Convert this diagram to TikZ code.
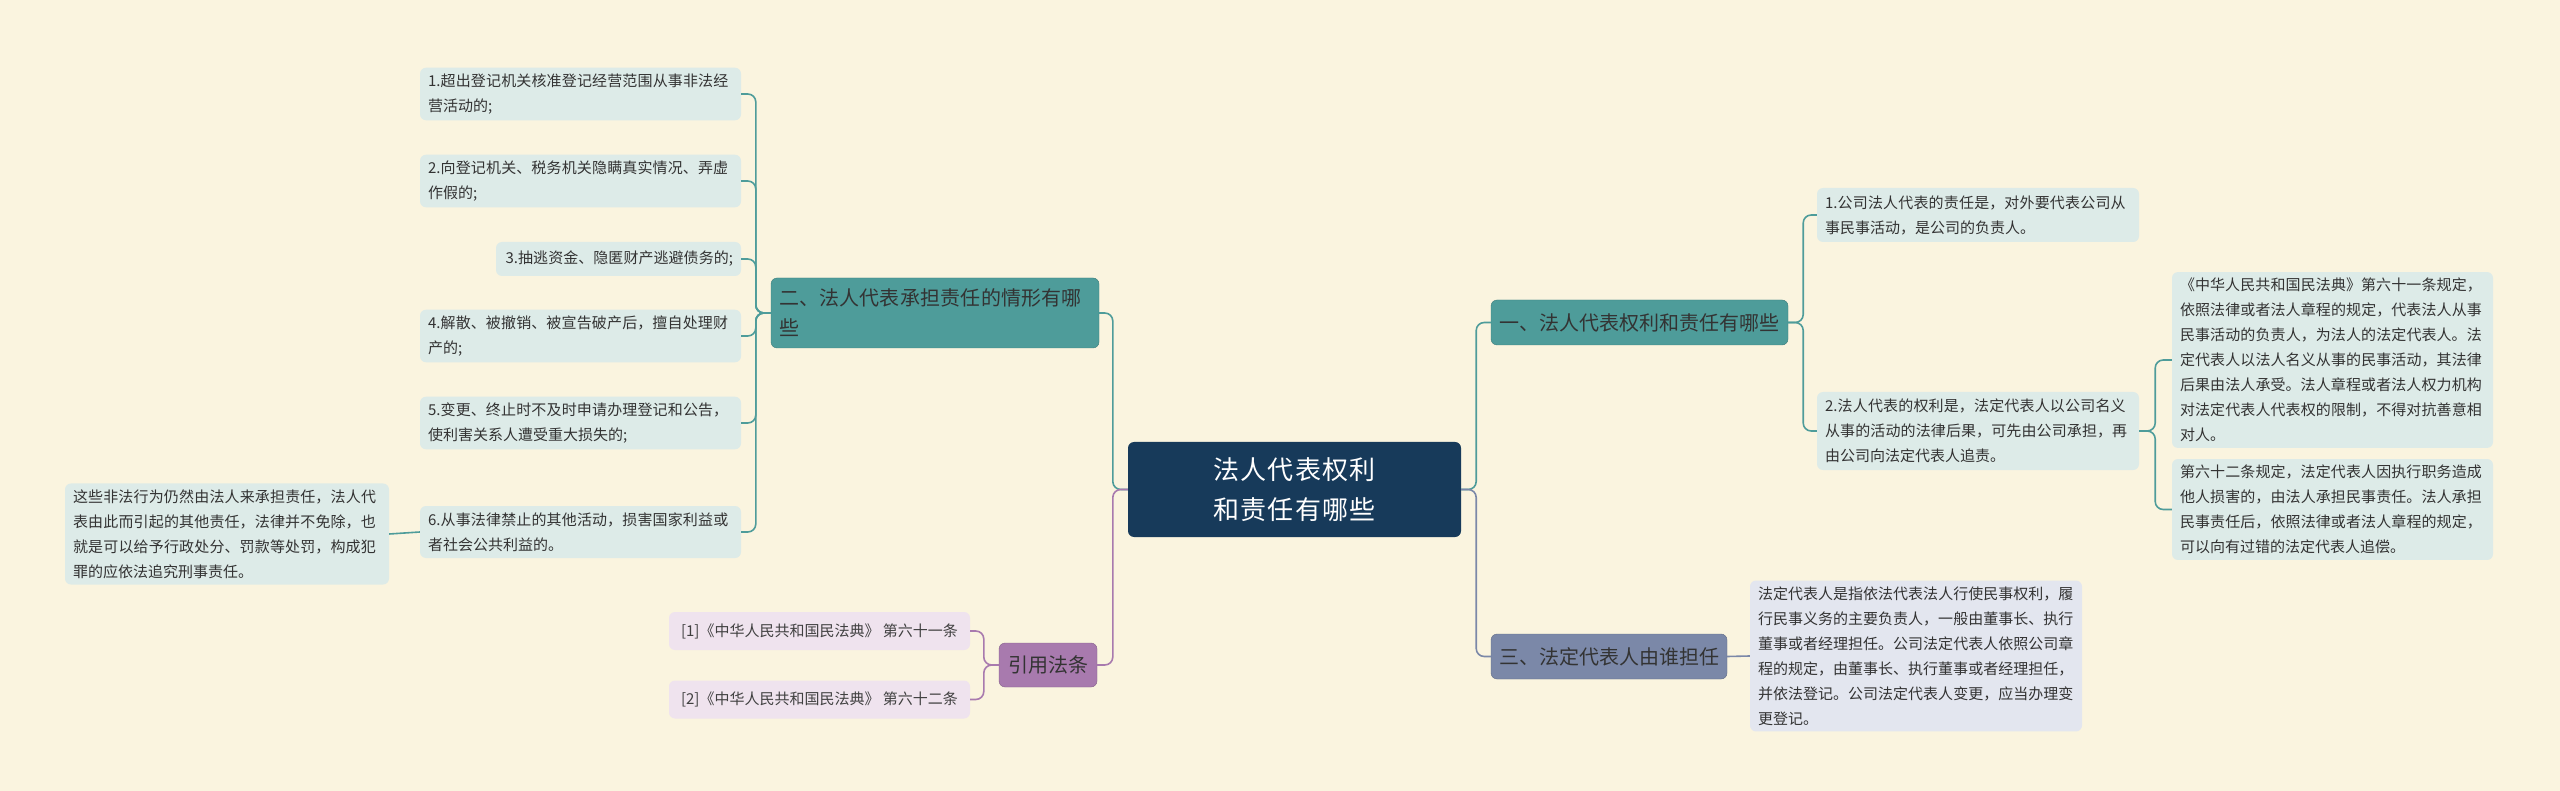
\documentclass[tikz,border=0pt]{standalone}
\usepackage{fontspec}
\setmainfont{Noto Sans CJK SC}
\XeTeXlinebreaklocale "zh"
\XeTeXlinebreakskip=0pt plus 1pt
\begin{document}
\begin{tikzpicture}[x=1pt,y=-1pt,
  box/.style={rounded corners=6pt,inner sep=6pt,align=left,anchor=center},
  leaf/.style={box,fill=leafc,text=black!80,font=\fontsize{15}{25}\selectfont},
  br/.style={box,fill=tealc,text=black!80,font=\fontsize{20}{30}\selectfont,draw=tealc!80!black},
  tl/.style={draw=tealc,line width=1.6pt,rounded corners=8pt},
  pl/.style={draw=purpc,line width=1.6pt,rounded corners=8pt},
  gl/.style={draw=grayc,line width=1.6pt,rounded corners=8pt}]
\definecolor{bgc}{HTML}{FAF4DF}
\definecolor{leafc}{HTML}{DDEBE8}
\definecolor{tealc}{HTML}{4E9C9A}
\definecolor{rootc}{HTML}{173A5A}
\definecolor{purpc}{HTML}{A87AAE}
\definecolor{refc}{HTML}{EFE3EE}
\definecolor{grayc}{HTML}{7B88A8}
\definecolor{r3c}{HTML}{E3E6EF}
\fill[bgc] (0,0) rectangle (2560,791);
\useasboundingbox (0,0) rectangle (2560,791);
% root
\node[box,fill=rootc,text=white,font=\fontsize{26}{40}\selectfont,align=center,minimum width=333pt,minimum height=95pt,text width=300pt] (root) at (1294.5,489.5) {法人代表权利和责任有哪些};
% left branch
\node[br,minimum width=328pt,minimum height=70pt,text width=312pt] (b2) at (935,313) {二、法人代表承担责任的情形有哪些};
\node[leaf,minimum width=321pt,minimum height=50pt,text width=305pt] (l1) at (580.5,94) {1.超出登记机关核准登记经营范围从事非法经营活动的;};
\node[leaf,minimum width=321pt,minimum height=52pt,text width=305pt] (l2) at (580.5,181) {2.向登记机关、税务机关隐瞒真实情况、弄虚作假的;};
\node[leaf,minimum width=245pt,minimum height=34pt,text width=229pt,align=right] (l3) at (618.5,259) {3.抽逃资金、隐匿财产逃避债务的;};
\node[leaf,minimum width=321pt,minimum height=52pt,text width=305pt] (l4) at (580.5,336) {4.解散、被撤销、被宣告破产后，擅自处理财产的;};
\node[leaf,minimum width=321pt,minimum height=52pt,text width=305pt] (l5) at (580.5,423) {5.变更、终止时不及时申请办理登记和公告，使利害关系人遭受重大损失的;};
\node[leaf,minimum width=321pt,minimum height=52pt,text width=305pt] (l6) at (580.5,532) {6.从事法律禁止的其他活动，损害国家利益或者社会公共利益的。};
\node[leaf,minimum width=324pt,minimum height=94pt,text width=308pt] (n6) at (227,534) {这些非法行为仍然由法人来承担责任，法人代表由此而引起的其他责任，法律并不免除，也就是可以给予行政处分、罚款等处罚，构成犯罪的应依法追究刑事责任。};
% refs
\node[box,fill=purpc,draw=purpc!80!black,text=black!80,font=\fontsize{20}{30}\selectfont,minimum width=98pt,minimum height=44pt] (yf) at (1048,665) {引用法条};
\node[box,fill=refc,text=black!75,font=\fontsize{15}{25}\selectfont,minimum width=301pt,minimum height=38pt] (rf1) at (819.5,631) {[1]《中华人民共和国民法典》 第六十一条};
\node[box,fill=refc,text=black!75,font=\fontsize{15}{25}\selectfont,minimum width=301pt,minimum height=38pt] (rf2) at (819.5,699.5) {[2]《中华人民共和国民法典》 第六十二条};
% right branch 1
\node[br,minimum width=297pt,minimum height=45pt] (b1) at (1639.5,322.5) {一、法人代表权利和责任有哪些};
\node[leaf,minimum width=322pt,minimum height=54pt,text width=306pt] (r1) at (1978,215) {1.公司法人代表的责任是，对外要代表公司从事民事活动，是公司的负责人。};
\node[leaf,minimum width=322pt,minimum height=78pt,text width=306pt] (r2) at (1978,431) {2.法人代表的权利是，法定代表人以公司名义从事的活动的法律后果，可先由公司承担，再由公司向法定代表人追责。};
\node[leaf,minimum width=321pt,minimum height=172pt,text width=305pt] (r2a) at (2332.5,360) {《中华人民共和国民法典》第六十一条规定，依照法律或者法人章程的规定，代表法人从事民事活动的负责人，为法人的法定代表人。法定代表人以法人名义从事的民事活动，其法律后果由法人承受。法人章程或者法人权力机构对法定代表人代表权的限制，不得对抗善意相对人。};
\node[leaf,minimum width=321pt,minimum height=91pt,text width=305pt] (r2b) at (2332.5,509.5) {第六十二条规定，法定代表人因执行职务造成他人损害的，由法人承担民事责任。法人承担民事责任后，依照法律或者法人章程的规定，可以向有过错的法定代表人追偿。};
% right branch 3
\node[box,fill=grayc,draw=grayc!80!black,text=black!80,font=\fontsize{20}{30}\selectfont,minimum width=236pt,minimum height=45pt] (b3) at (1609,656.5) {三、法定代表人由谁担任};
\node[box,fill=r3c,text=black!80,font=\fontsize{15}{25}\selectfont,minimum width=332pt,minimum height=134pt,text width=316pt] (r3) at (1916,656) {法定代表人是指依法代表法人行使民事权利，履行民事义务的主要负责人，一般由董事长、执行董事或者经理担任。公司法定代表人依照公司章程的规定，由董事长、执行董事或者经理担任，并依法登记。公司法定代表人变更，应当办理变更登记。};
% connectors
\foreach \c in {l1,l2,l3,l4,l5,l6} \draw[tl] (b2.west) -- ++(-15,0) |- (\c.east);
\draw[tl] (l6.west) -- (n6.east);
\draw[tl] (root.west) -- ++(-15,0) |- (b2.east);
\draw[pl] (root.west) -- ++(-15,0) |- (yf.east);
\foreach \c in {rf1,rf2} \draw[pl] (yf.west) -- ++(-15,0) |- (\c.east);
\draw[tl] (root.east) -- ++(15,0) |- (b1.west);
\draw[gl] (root.east) -- ++(15,0) |- (b3.west);
\foreach \c in {r1,r2} \draw[tl] (b1.east) -- ++(15,0) |- (\c.west);
\foreach \c in {r2a,r2b} \draw[tl] (r2.east) -- ++(16,0) |- (\c.west);
\draw[gl] (b3.east) -- (r3.west);
\end{tikzpicture}
\end{document}
